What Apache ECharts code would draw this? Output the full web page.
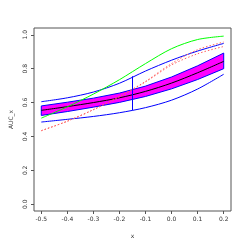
<!DOCTYPE html>
<html>
<head>
<meta charset="utf-8">
<script src="https://cdn.jsdelivr.net/npm/echarts@6/dist/echarts.min.js"></script>
<style>html,body{margin:0;padding:0;background:#fff}#c{width:245px;height:245px}</style>
</head>
<body>
<div id="c"></div>
<script>
var xs = [-0.5, -0.4, -0.3, -0.2, -0.1, 0, 0.1, 0.2];
var center = [0.554, 0.576, 0.600, 0.628, 0.666, 0.715, 0.776, 0.843];
var bandLower = [0.524, 0.547, 0.573, 0.601, 0.636, 0.681, 0.736, 0.800];
var bandUpper = [0.580, 0.602, 0.626, 0.656, 0.697, 0.751, 0.817, 0.892];
var upperBlue = [0.605, 0.628, 0.662, 0.714, 0.786, 0.850, 0.904, 0.949];
var lowerBlue = [0.485, 0.501, 0.518, 0.540, 0.570, 0.614, 0.680, 0.767];
var green = [0.508, 0.575, 0.650, 0.735, 0.830, 0.918, 0.972, 0.992];
var red1 = [0.434, 0.490, 0.558, 0.635, 0.725, 0.830, 0.912, 0.957];
var red2 = [0.434, 0.490, 0.558, 0.635, 0.722, 0.822, 0.888, 0.931];
var vlineX = -0.15;
var vlineY = [0.554, 0.755];
var xTicks = [-0.5, -0.4, -0.3, -0.2, -0.1, 0.0, 0.1, 0.2];
var yTicks = [0.0, 0.2, 0.4, 0.6, 0.8, 1.0];

function pairs(ys) { return xs.map(function (x, i) { return [x, ys[i]]; }); }

var chart = echarts.init(document.getElementById('c'));
var font = 'DejaVu Sans';
var axisCol = '#555';

function line(ys, color, type) {
  return {
    type: 'line', data: pairs(ys), symbol: 'none', smooth: 0.3,
    lineStyle: { color: color, width: 1, type: type || 'solid' }, silent: true, z: 5
  };
}

chart.setOption({
  animation: false,
  backgroundColor: '#fff',
  grid: { left: 28, top: 28, width: 203, height: 183, show: true, borderColor: axisCol, borderWidth: 1, backgroundColor: 'transparent' },
  xAxis: {
    type: 'value', min: -0.528, max: 0.228,
    name: 'x', nameLocation: 'middle', nameGap: 22,
    nameTextStyle: { fontFamily: font, fontSize: 6, color: '#333' },
    axisLine: { show: false, onZero: false },
    splitLine: { show: false },
    axisTick: { show: true, inside: false, length: 3, customValues: xTicks, lineStyle: { color: axisCol } },
    axisLabel: { customValues: xTicks, fontFamily: font, fontSize: 6, color: '#333', margin: 5,
      formatter: function (v) { return v.toFixed(1); } }
  },
  yAxis: {
    type: 'value', min: -0.04, max: 1.04,
    name: 'AUC_x', nameLocation: 'middle', nameGap: 20, nameRotate: 90,
    nameTextStyle: { fontFamily: font, fontSize: 6, color: '#333' },
    axisLine: { show: false, onZero: false },
    splitLine: { show: false },
    axisTick: { show: true, inside: false, length: 3, customValues: yTicks, lineStyle: { color: axisCol } },
    axisLabel: { customValues: yTicks, rotate: 90, fontFamily: font, fontSize: 6, color: '#333', margin: 6,
      formatter: function (v) { return v.toFixed(1); } }
  },
  series: [
    {
      type: 'custom', silent: true, z: 3,
      data: [0],
      renderItem: function (params, api) {
        var pts = [];
        for (var i = 0; i < xs.length; i++) pts.push(api.coord([xs[i], bandUpper[i]]));
        for (var j = xs.length - 1; j >= 0; j--) pts.push(api.coord([xs[j], bandLower[j]]));
        return { type: 'polygon', shape: { points: pts },
          style: { fill: '#ff00ff', stroke: '#0000ff', lineWidth: 1 } };
      }
    },
    line(center, '#000000'),
    line(upperBlue, '#0000ff'),
    line(lowerBlue, '#0000ff'),
    line(green, '#00ff00'),
    line(red1, '#ff6060', [1.5, 2]),
    line(red2, '#ff6060', [1.5, 2]),
    {
      type: 'line', data: [[vlineX, vlineY[0]], [vlineX, vlineY[1]]], symbol: 'none',
      lineStyle: { color: '#0000ff', width: 1 }, silent: true, z: 6
    }
  ]
});
</script>
</body>
</html>
